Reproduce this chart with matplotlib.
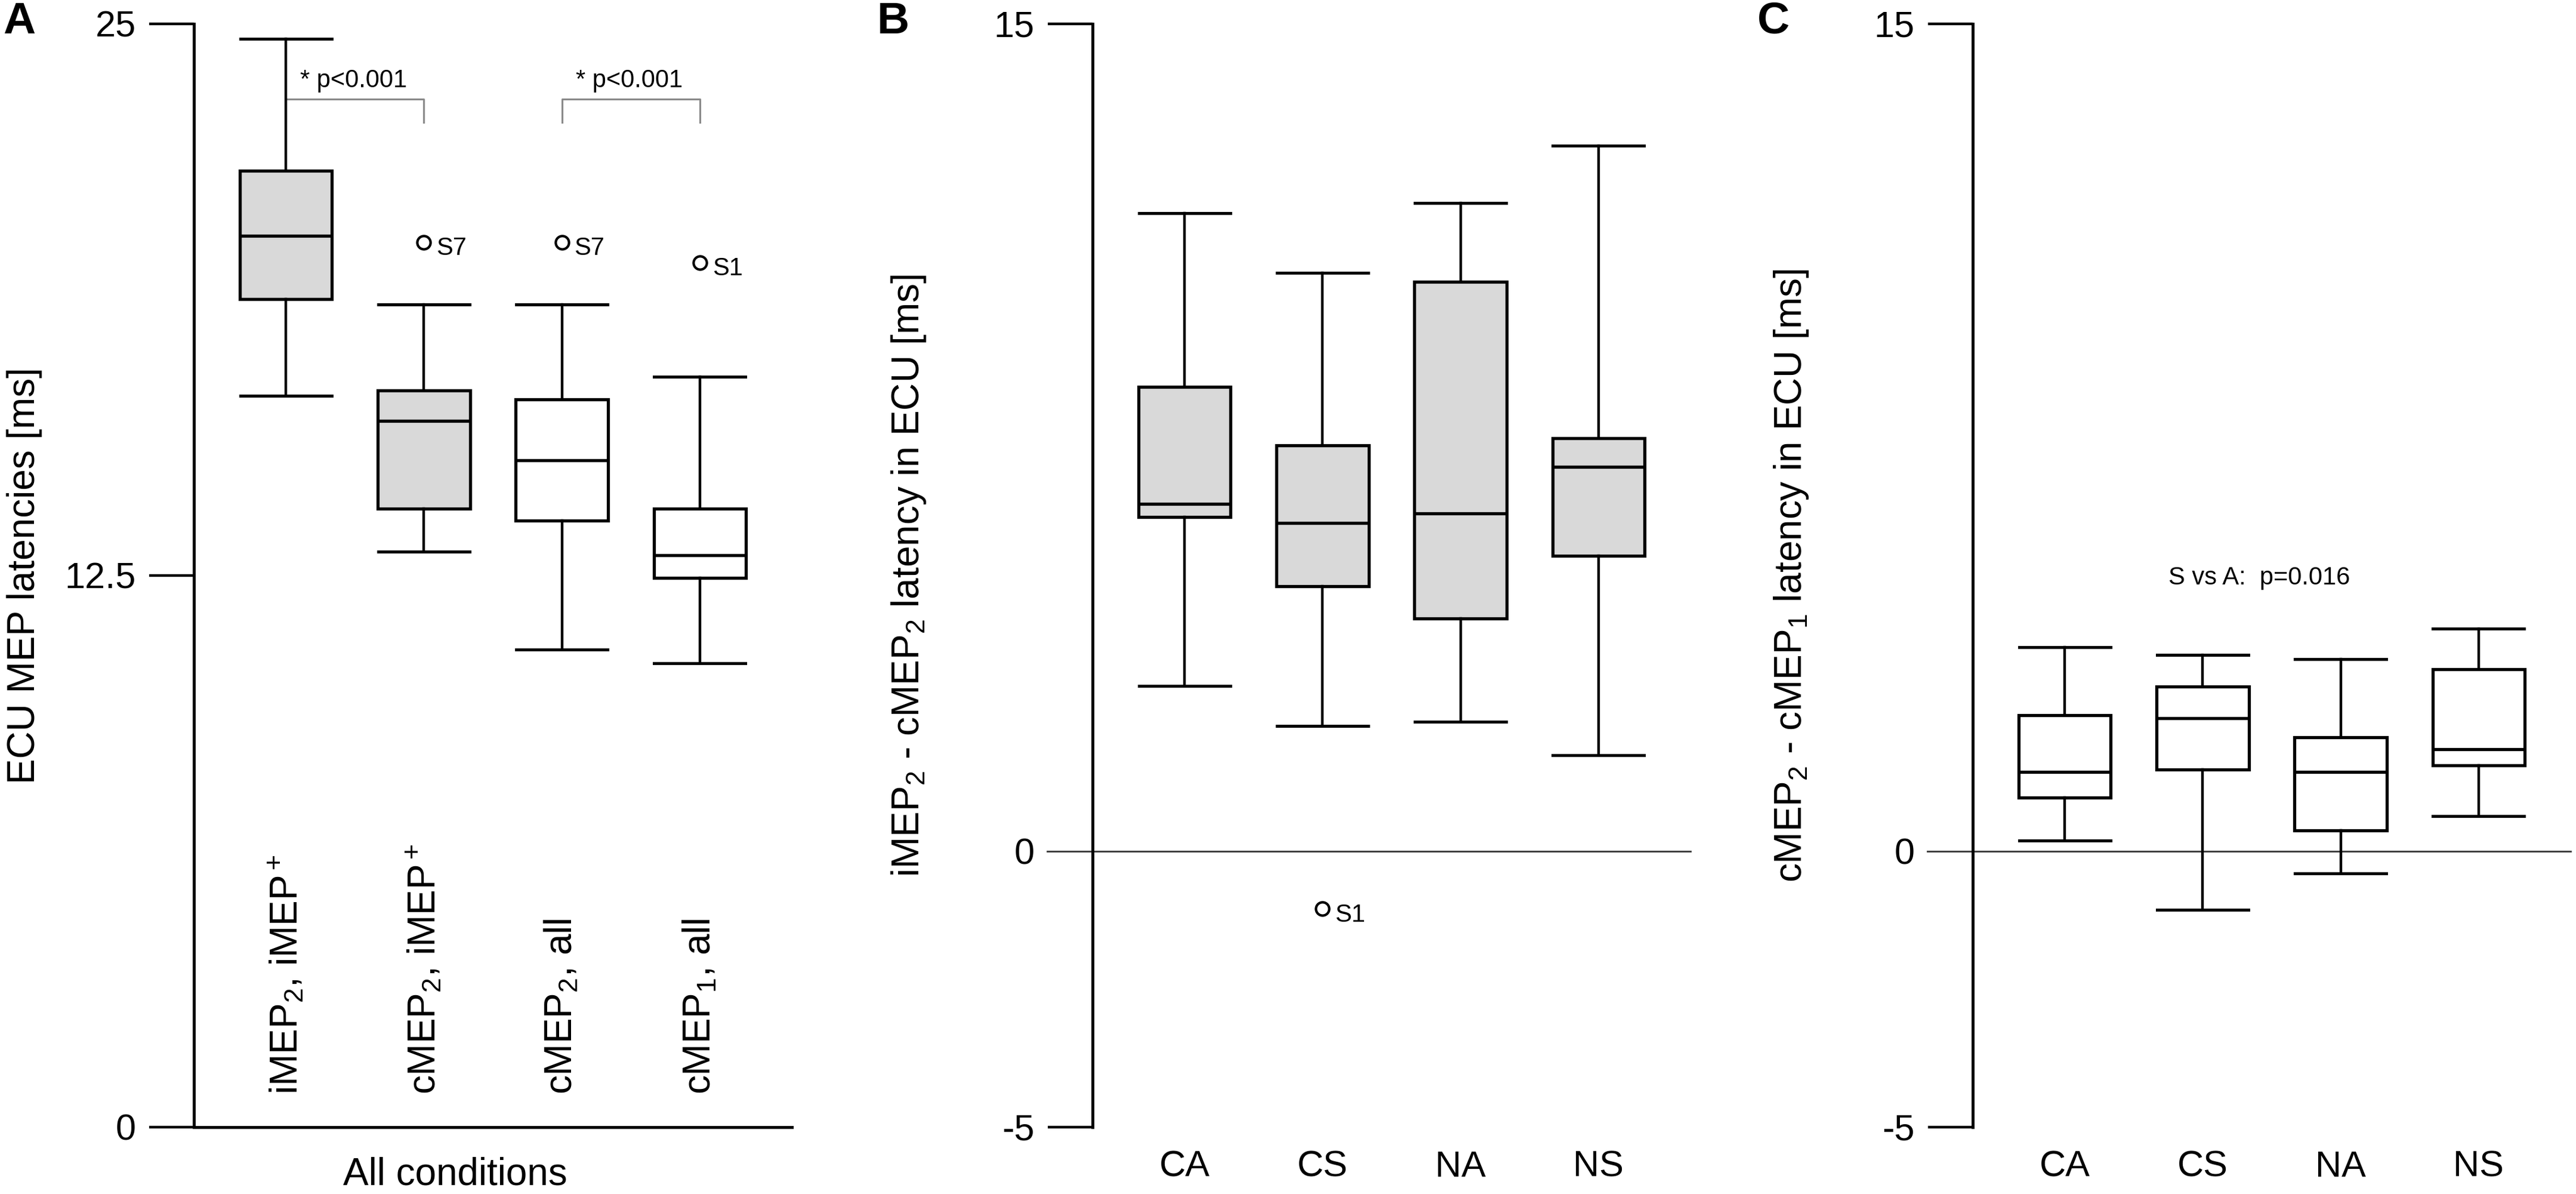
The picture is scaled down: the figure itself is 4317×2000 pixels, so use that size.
import matplotlib
matplotlib.use('Agg')
import matplotlib.pyplot as plt
import matplotlib.transforms as mtransforms

plt.rcParams['font.family'] = ['Liberation Sans', 'DejaVu Sans']
plt.rcParams['mathtext.fontset'] = 'custom'
plt.rcParams['mathtext.rm'] = 'Liberation Sans'
plt.rcParams['mathtext.it'] = 'Liberation Sans:italic'
plt.rcParams['mathtext.bf'] = 'Liberation Sans:bold'
plt.rcParams['mathtext.default'] = 'regular'

# ---------------- Data ----------------
positions = [1, 2, 3, 4]

# Panel A
a_labels = [r'iMEP$_2$, iMEP$^+$', r'cMEP$_2$, iMEP$^+$', r'cMEP$_2$, all', r'cMEP$_1$, all']
a_whislo = [16.57, 13.04, 10.82, 10.51]
a_q1 = [18.76, 14.02, 13.74, 12.44]
a_med = [20.20, 16.01, 15.11, 12.96]
a_q3 = [21.67, 16.70, 16.49, 14.02]
a_whishi = [24.66, 18.64, 18.64, 17.01]
a_fliers = [[], [20.05], [20.05], [19.59]]
a_flier_labels = [[], ['S7'], ['S7'], ['S1']]
a_filled = [True, True, False, False]
a_yticks = [0, 12.5, 25]
a_yticklabels = ['0', '12.5', '25']
a_sig_pairs = [(1, 2), (3, 4)]
a_sig_text = ['* p<0.001', '* p<0.001']

# Panel B
cond_labels = ['CA', 'CS', 'NA', 'NS']
b_whislo = [3.00, 2.27, 2.35, 1.74]
b_q1 = [6.06, 4.81, 4.22, 5.36]
b_med = [6.30, 5.95, 6.13, 6.97]
b_q3 = [8.42, 7.36, 10.33, 7.49]
b_whishi = [11.57, 10.49, 11.75, 12.79]
b_fliers = [[], [-1.04], [], []]
b_flier_labels = [[], ['S1'], [], []]
b_filled = [True, True, True, True]

# Panel C
c_whislo = [0.19, -1.06, -0.40, 0.64]
c_q1 = [0.97, 1.48, 0.38, 1.56]
c_med = [1.44, 2.41, 1.44, 1.85]
c_q3 = [2.47, 2.99, 2.07, 3.30]
c_whishi = [3.70, 3.56, 3.49, 4.04]
c_fliers = [[], [], [], []]
c_flier_labels = [[], [], [], []]
c_filled = [False, False, False, False]

bc_yticks = [-5, 0, 15]
bc_yticklabels = ['-5', '0', '15']

# ---------------- Style ----------------
GRAY = '#d9d9d9'
W, H, DPI = 4317, 2000, 200
fig = plt.figure(figsize=(W / DPI, H / DPI), dpi=DPI)

ax_w = 1002 / W
bottom = 1 - 1888 / H
height = 1848 / H
axA = fig.add_axes([325 / W, bottom, ax_w, height])
axB = fig.add_axes([1831 / W, bottom, ax_w, height])
axC = fig.add_axes([3306 / W, bottom, ax_w, height])


def draw_boxes(ax, whislo, q1, med, q3, whishi, fliers, flier_labels, filled):
    stats = []
    for i in range(len(med)):
        stats.append(dict(med=med[i], q1=q1[i], q3=q3[i], whislo=whislo[i],
                          whishi=whishi[i], fliers=fliers[i]))
    bp = ax.bxp(stats, positions=positions, widths=0.667, capwidths=0.66,
                patch_artist=True, showfliers=True, manage_ticks=False,
                boxprops=dict(linewidth=1.9, edgecolor='black'),
                whiskerprops=dict(linewidth=1.6, color='black'),
                capprops=dict(linewidth=1.8, color='black'),
                medianprops=dict(linewidth=1.9, color='black'),
                flierprops=dict(marker='o', markerfacecolor='white',
                                markeredgecolor='black', markersize=8.0,
                                markeredgewidth=1.5),
                zorder=3)
    for patch, f in zip(bp['boxes'], filled):
        patch.set_facecolor(GRAY if f else 'white')
    for pos, vals, labs in zip(positions, fliers, flier_labels):
        for v, lab in zip(vals, labs):
            ax.annotate(lab, (pos, v), xytext=(7.5, -3.8), textcoords='offset points',
                        ha='left', va='center', fontsize=15)
    ax.set_xlim(0.333, 4.667)
    for s in ['top', 'right']:
        ax.spines[s].set_visible(False)
    ax.spines['left'].set_linewidth(1.8)
    ax.spines['bottom'].set_linewidth(1.8)
    ax.tick_params(axis='y', length=27, width=1.6, pad=8, labelsize=22)
    ax.tick_params(axis='x', length=0)


# Panel A
draw_boxes(axA, a_whislo, a_q1, a_med, a_q3, a_whishi, a_fliers, a_flier_labels, a_filled)
axA.set_ylim(0, 25)
axA.set_yticks(a_yticks, a_yticklabels)
axA.set_xticks([])
for p, lab in zip(positions, a_labels):
    axA.text(p, 0.75, lab, rotation=90, ha='center', va='bottom', fontsize=23)
for (x1, x2), txt in zip(a_sig_pairs, a_sig_text):
    axA.plot([x1, x1, x2, x2], [22.77, 23.30, 23.30, 22.77], color='#8a8a8a',
             lw=1.1, zorder=2)
    axA.text((x1 + x2) / 2 - 0.01, 23.72, txt, ha='center', va='center', fontsize=15)
axA.text(0.437, -0.043, 'All conditions', transform=axA.transAxes,
         ha='center', va='center', fontsize=23)
axA.text(-0.283, 0.5, 'ECU MEP latencies [ms]', transform=axA.transAxes,
         rotation=90, ha='center', va='center', fontsize=23)

# Panels B, C
def setup_bc(ax, ylabel, ylabel_x):
    ax.set_ylim(-5, 15)
    ax.set_yticks(bc_yticks, bc_yticklabels)
    ax.spines['bottom'].set_visible(False)
    ticks = ax.yaxis.get_major_ticks()
    ticks[1].tick1line.set_visible(False)
    trans = mtransforms.blended_transform_factory(ax.transAxes, ax.transData)
    ax.plot([-0.076, 1.0], [0, 0], transform=trans, color='#333333', lw=1.0,
            clip_on=False, zorder=1)
    ax.set_xticks(positions, cond_labels)
    ax.tick_params(axis='x', length=0, pad=14, labelsize=22)
    ax.text(ylabel_x, 0.5, ylabel, transform=ax.transAxes, rotation=90,
            ha='center', va='center', fontsize=23)


draw_boxes(axB, b_whislo, b_q1, b_med, b_q3, b_whishi, b_fliers, b_flier_labels, b_filled)
setup_bc(axB, r'iMEP$_2$ - cMEP$_2$ latency in ECU [ms]', -0.307)

draw_boxes(axC, c_whislo, c_q1, c_med, c_q3, c_whishi, c_fliers, c_flier_labels, c_filled)
setup_bc(axC, r'cMEP$_2$ - cMEP$_1$ latency in ECU [ms]', -0.303)
axC.text(2.41, 4.96, 'S vs A:  p=0.016', ha='center', va='center', fontsize=15)

# Panel letters
for x, letter in [(5, 'A'), (1470, 'B'), (2945, 'C')]:
    fig.text(x / W, 0.999, letter, ha='left', va='top', fontsize=27, fontweight='bold')

fig.savefig('out.png', dpi=DPI)
